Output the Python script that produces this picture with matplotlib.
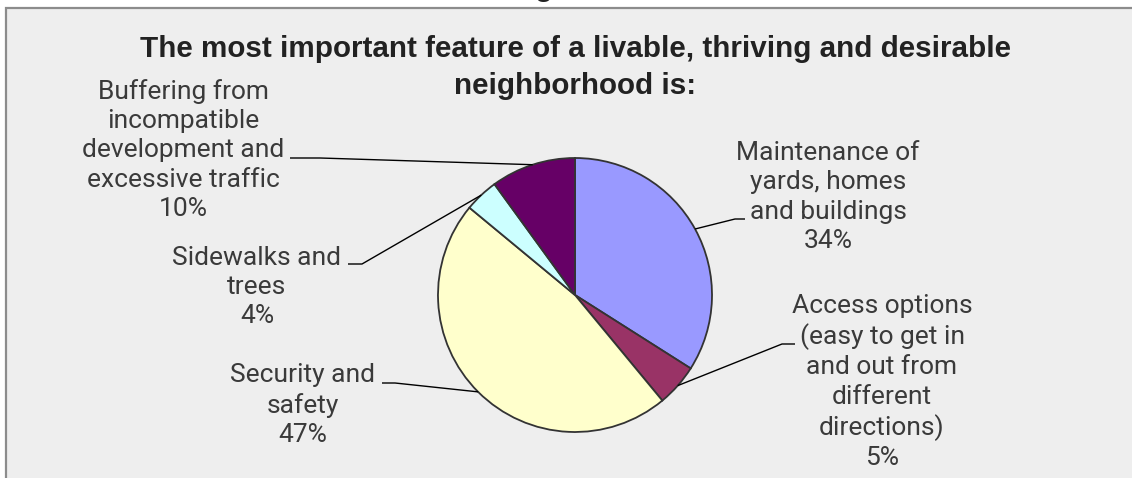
import matplotlib
matplotlib.use("Agg")
import numpy as np
import matplotlib.pyplot as plt
from matplotlib.patches import Rectangle

# data
labels = [
    "Maintenance of\nyards, homes\nand buildings",
    "Access options\n(easy to get in\nand out from\ndifferent\ndirections)",
    "Security and\nsafety",
    "Sidewalks and\ntrees",
    "Buffering from\nincompatible\ndevelopment and\nexcessive traffic",
]
values = [34, 5, 47, 4, 10]
colors = ["#9999FF", "#993366", "#FFFFCC", "#CCFFFF", "#660066"]
title_lines = ["The most important feature of a livable, thriving and desirable",
               "neighborhood is:"]

W, H = 1132, 478

def py(y):
    # pixel row (from top) -> data y
    return H - y

# label layout: text centre, elbow point, end of leader next to text (pixel coords)
label_pos = [(828, 197), (882, 382), (303, 405), (257, 287), (183, 150)]
elbow = [(735, 219), (782, 344), (395, 383), (362, 264), (320, 158)]
leader_end = [(745, 219), (795, 344), (382, 383), (348, 264), (290, 158)]
title_baselines = [57, 94]

fig = plt.figure(figsize=(W / 100, H / 100), dpi=100)
fig.patch.set_facecolor("white")
ax = fig.add_axes([0, 0, 1, 1])

ax.add_patch(Rectangle((6, -20), W + 20, py(8) + 20, facecolor="#EEEEEE",
                       edgecolor="#8C8C8C", lw=1.6, zorder=0))

# cut-off text above the box
ax.text(544, py(-4), "g", ha="center", va="baseline", fontsize=21,
        fontweight="bold", color="#222222", family="Liberation Sans")

cx, cy, r = 575, py(295), 137
wedges, _ = ax.pie(values, colors=colors, startangle=90, counterclock=False,
                   center=(cx, cy), radius=r, frame=True,
                   wedgeprops=dict(edgecolor="#333333", linewidth=1.3))
ax.set_xlim(0, W)
ax.set_ylim(0, H)
ax.set_aspect("equal")
ax.axis("off")

for i, w in enumerate(wedges):
    ang = np.deg2rad((w.theta1 + w.theta2) / 2)
    x0, y0 = cx + r * np.cos(ang), cy + r * np.sin(ang)
    ex, ey = elbow[i]
    lx, ly = leader_end[i]
    ax.plot([x0, ex, lx], [y0, py(ey), py(ly)], color="black", lw=1.0,
            solid_capstyle="butt", zorder=3)
    tx, ty = label_pos[i]
    ax.text(tx, py(ty), f"{labels[i]}\n{values[i]}%", ha="center", va="center",
            fontsize=19, family="Roboto", color="#3A3A3A", linespacing=1.27)

for line, yb in zip(title_lines, title_baselines):
    ax.text(575, py(yb), line, ha="center", va="baseline", fontsize=21.3,
            fontweight="bold", color="#222222", family="Liberation Sans")

fig.savefig("out.png", dpi=100, facecolor=fig.get_facecolor())
